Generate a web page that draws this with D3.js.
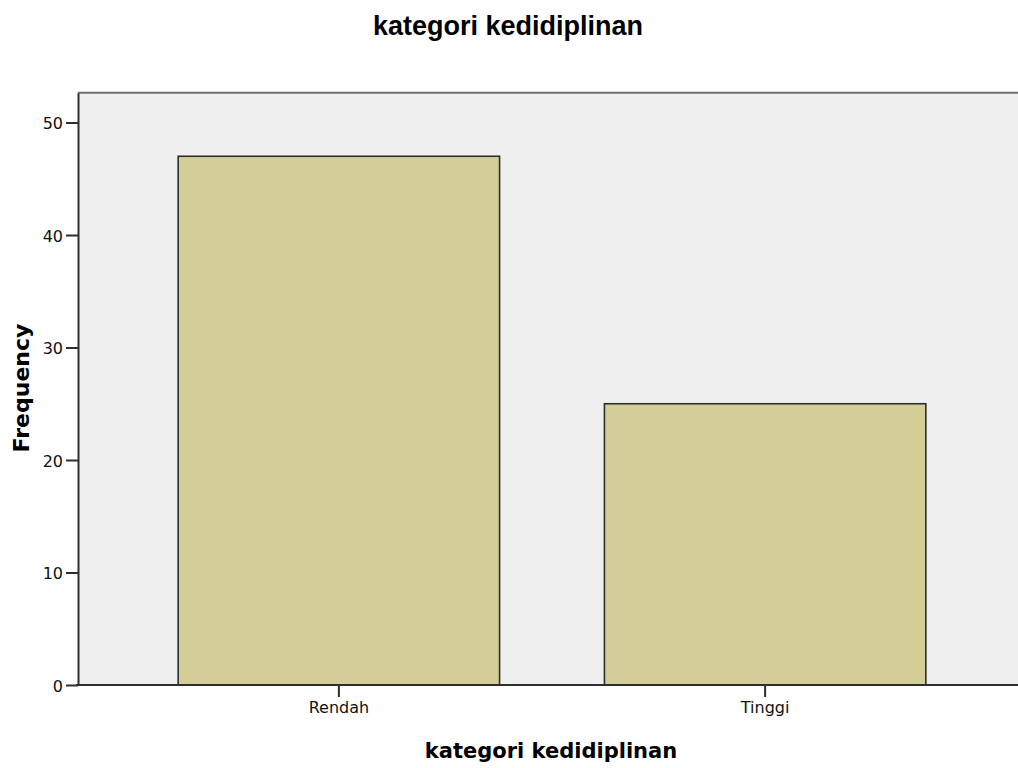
<!DOCTYPE html>
<html>
<head>
<meta charset="utf-8">
<script src="https://cdn.jsdelivr.net/npm/d3@7"></script>
<style>
  html, body { margin: 0; padding: 0; background: #ffffff; overflow: hidden; }
  svg { display: block; }
</style>
</head>
<body>
<svg id="chart" width="1018" height="768"></svg>
<script>
const categories = ["Rendah", "Tinggi"];
const frequencies = [47, 25];
const yTicks = [0, 10, 20, 30, 40, 50];
const chartTitle = "kategori kedidiplinan";
const xTitle = "kategori kedidiplinan";
const yTitle = "Frequency";

const svg = d3.select("#chart");
const plotL = 78, plotR = 1026, plotT = 92.7, plotB = 685;

const y = d3.scaleLinear().domain([0, 52.65]).range([plotB, plotT]);
const x = d3.scaleBand().domain(categories).range([plotL, plotR])
  .paddingInner(0.246).paddingOuter(0.235);

// plot background
svg.append("rect").attr("x", plotL).attr("y", plotT)
  .attr("width", plotR - plotL).attr("height", plotB - plotT)
  .attr("fill", "#efefef");
// top border
svg.append("line").attr("x1", plotL).attr("x2", plotR).attr("y1", plotT).attr("y2", plotT)
  .attr("stroke", "#6e6e6e").attr("stroke-width", 2);

// bars
svg.append("g").selectAll("rect").data(categories).join("rect")
  .attr("x", d => x(d))
  .attr("y", (d, i) => y(frequencies[i]))
  .attr("width", x.bandwidth())
  .attr("height", (d, i) => y(0) - y(frequencies[i]))
  .attr("fill", "#d3ce98")
  .attr("stroke", "#2e2e2e")
  .attr("stroke-width", 1.6);

// y axis
const yAxis = svg.append("g").attr("transform", `translate(${plotL},0)`)
  .call(d3.axisLeft(y).tickValues(yTicks).tickSize(12).tickPadding(3).tickSizeOuter(0));
yAxis.select(".domain").attr("stroke", "#2e2e2e").attr("stroke-width", 2);
yAxis.selectAll(".tick line").attr("stroke", "#2e2e2e").attr("stroke-width", 2);
yAxis.selectAll(".tick text").attr("font-family", "DejaVu Sans").attr("font-size", 16)
  .attr("fill", "#111").attr("dy", "0.4em");

// x axis
const xAxis = svg.append("g").attr("transform", `translate(0,${plotB})`)
  .call(d3.axisBottom(x).tickSize(12).tickPadding(5).tickSizeOuter(0));
xAxis.select(".domain").attr("stroke", "#2e2e2e").attr("stroke-width", 2)
  .attr("d", `M${plotL - 2},0H${plotR}`);
xAxis.selectAll(".tick line").attr("stroke", "#2e2e2e").attr("stroke-width", 2);
xAxis.selectAll(".tick text").attr("font-family", "DejaVu Sans").attr("font-size", 16)
  .attr("fill", "#111");

// titles
svg.append("text").attr("x", 508).attr("y", 35).attr("text-anchor", "middle")
  .attr("font-family", "Liberation Sans, Arial").attr("font-weight", "bold")
  .attr("font-size", 27).attr("fill", "#000").text(chartTitle);

svg.append("text").attr("x", 551).attr("y", 758).attr("text-anchor", "middle")
  .attr("font-family", "DejaVu Sans").attr("font-weight", "bold")
  .attr("font-size", 21).attr("fill", "#000").text(xTitle);

svg.append("text").attr("transform", "translate(29,388) rotate(-90)")
  .attr("text-anchor", "middle")
  .attr("font-family", "DejaVu Sans").attr("font-weight", "bold")
  .attr("font-size", 22).attr("fill", "#000").text(yTitle);
</script>
</body>
</html>
